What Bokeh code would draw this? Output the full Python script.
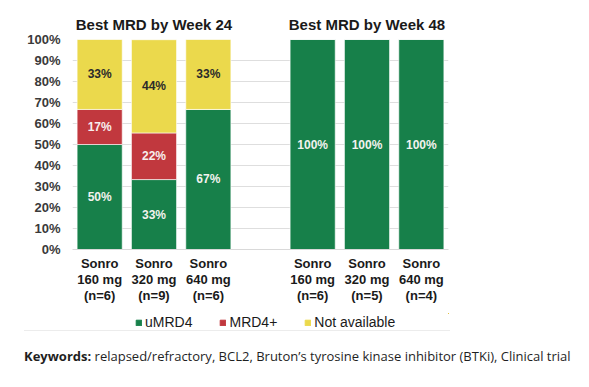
from bokeh.plotting import figure
from bokeh.models import (Range1d, Legend, LegendItem, FixedTicker, LinearAxis,
                          ColumnDataSource, Div)
from bokeh.layouts import column
from bokeh.embed import file_html
from bokeh.resources import INLINE

groups = ["Best MRD by Week 24", "Best MRD by Week 48"]
arms_24 = ["Sonro\n160 mg\n(n=6)", "Sonro\n320 mg\n(n=9)", "Sonro\n640 mg\n(n=6)"]
arms_48 = ["Sonro\n160 mg\n(n=6)", "Sonro\n320 mg\n(n=5)", "Sonro\n640 mg\n(n=4)"]
series = ["uMRD4", "MRD4+", "Not available"]
umrd4 = [50.0, 33.3, 66.7, 100.0, 100.0, 100.0]
mrd4p = [16.7, 22.2, 0.0, 0.0, 0.0, 0.0]
not_avail = [33.3, 44.4, 33.3, 0.0, 0.0, 0.0]
yticks = [0, 10, 20, 30, 40, 50, 60, 70, 80, 90, 100]
keywords_head = "Keywords:"
keywords_body = "relapsed/refractory, BCL2, Bruton\u2019s tyrosine kinase inhibitor (BTKi), Clinical trial"

colors = ["#17804a", "#c1383e", "#ebd94c"]
label_colors = ["#f2f2ee", "#f7eeee", "#2a2a2a"]
FONT = "Liberation Sans"
GAP = 0.92  # extra space between the two groups, in bar slots

# slot positions of the bars (layout only)
xs, labels = [], []
for gi, arms in enumerate([arms_24, arms_48]):
    for j, a in enumerate(arms):
        xs.append(gi * (len(arms) + GAP) + j + 0.5)
        labels.append(a)
centers = [gi * (3 + GAP) + 1.5 for gi in range(len(groups))]
x_end = 2 * 3 + GAP

data = {"x": xs, series[0]: umrd4, series[1]: mrd4p, series[2]: not_avail}
src = ColumnDataSource(data)

p = figure(width=580, height=313, output_backend="svg", toolbar_location=None,
           x_range=Range1d(0, x_end), y_range=Range1d(0, 100),
           x_axis_location=None,
           min_border_left=72, min_border_right=132, min_border_top=39, min_border_bottom=64)
p.outline_line_color = None

rs = p.vbar_stack(series, x="x", width=0.83, source=src, color=colors,
                  line_color="white", line_width=0.6)

# value labels
lx, ly, lt, lc = [], [], [], []
for i, xv in enumerate(xs):
    base = 0.0
    for s, col in zip(series, label_colors):
        v = data[s][i]
        if v > 0:
            lx.append(xv); ly.append(base + v / 2); lt.append(f"{round(v)}%"); lc.append(col)
        base += v
p.text(x="x", y="y", text="t", text_color="c", source=ColumnDataSource(dict(x=lx, y=ly, t=lt, c=lc)),
       text_align="center", text_baseline="middle", text_font_size="12px",
       text_font_style="bold", text_font={"value": FONT})

# y axis
p.yaxis.ticker = FixedTicker(ticks=yticks)
p.yaxis.major_label_overrides = {t: f"{t}%" for t in yticks}
p.yaxis.axis_line_color = None
p.yaxis.major_tick_line_color = None
p.yaxis.major_tick_out = 0
p.yaxis.major_tick_in = 0
p.yaxis.minor_tick_line_color = None
p.yaxis.major_label_standoff = 12
p.yaxis.major_label_text_font = FONT
p.yaxis.major_label_text_font_size = "13px"
p.yaxis.major_label_text_font_style = "bold"
p.yaxis.major_label_text_color = "#3a3a3a"

# bottom axis: arm labels
xb = LinearAxis(ticker=FixedTicker(ticks=xs), major_label_overrides=dict(zip(xs, labels)))
xb.axis_line_color = "#d9d9d9"
xb.major_tick_line_color = None
xb.major_tick_out = 0
xb.major_tick_in = 0
xb.minor_tick_line_color = None
xb.major_label_standoff = 6
xb.major_label_text_font = FONT
xb.major_label_text_font_size = "13px"
xb.major_label_text_font_style = "bold"
xb.major_label_text_color = "#1a1a1a"
xb.major_label_text_line_height = 1.08
p.add_layout(xb, "below")

# top axis: group titles
xt = LinearAxis(ticker=FixedTicker(ticks=centers), major_label_overrides=dict(zip(centers, groups)))
xt.axis_line_color = None
xt.major_tick_line_color = None
xt.major_tick_out = 0
xt.major_tick_in = 0
xt.minor_tick_line_color = None
xt.major_label_standoff = 7
xt.major_label_text_font = FONT
xt.major_label_text_font_size = "15px"
xt.major_label_text_font_style = "bold"
xt.major_label_text_color = "#1a1a1a"
p.add_layout(xt, "above")

p.xgrid.grid_line_color = None
p.ygrid.grid_line_color = "#dedede"
p.ygrid.grid_line_width = 1

# legend strip (its own small figure; same stacked series, kept fully out of its view)
lg = figure(width=580, height=17, output_backend="svg", toolbar_location=None,
            x_range=Range1d(-100, -99), y_range=Range1d(-100, -99),
            x_axis_location=None, y_axis_location=None,
            min_border_left=0, min_border_right=0, min_border_top=0, min_border_bottom=0)
lg.outline_line_color = None
lg.grid.grid_line_color = None
lrs = lg.vbar_stack(series, x="x", width=0.83, source=src, color=colors)
legend = Legend(items=[LegendItem(label=s, renderers=[r]) for s, r in zip(series, lrs)],
                orientation="horizontal", location=(63, 0), glyph_width=7, glyph_height=7,
                label_standoff=3, spacing=27, padding=0, margin=0, border_line_color=None,
                background_fill_alpha=0, label_text_font=FONT, label_text_font_size="14px",
                label_text_color="#1a1a1a", label_height=16, label_text_baseline="middle")
lg.add_layout(legend)

kw = Div(text=(f'<div style="width:426px;border-top:1px solid #ececec"></div>'
               f'<div style="padding-top:16px;white-space:nowrap">'
               f'<span style="font-weight:700">{keywords_head}</span> {keywords_body}</div>'),
         width=560, height=50, margin=(0, 0, 0, 24),
         styles={"font-family": "'Open Sans'", "font-size": "13px", "color": "#1f1f1f"})

open("out.html", "w").write(file_html(column(p, lg, kw, spacing=0), INLINE))
